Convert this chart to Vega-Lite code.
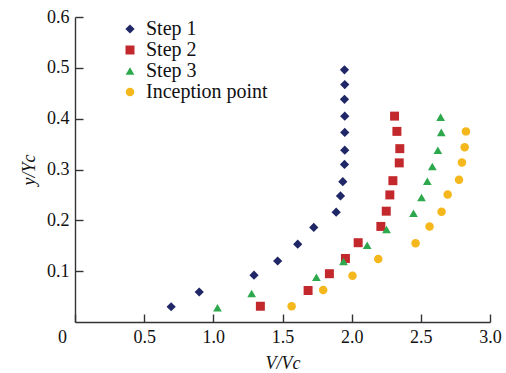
{
  "$schema": "https://vega.github.io/schema/vega-lite/v6.json",
  "width": 415,
  "height": 305,
  "autosize": "none",
  "padding": {"left": 75, "top": 17, "right": 16, "bottom": 51},
  "background": "white",
  "config": {
    "font": "Liberation Serif",
    "view": {"stroke": null},
    "legend": {"labelFont": "Liberation Serif", "titleFont": "Liberation Serif"},
    "axis": {
      "grid": false,
      "domainColor": "#333333",
      "domainWidth": 1.4,
      "tickColor": "#333333",
      "tickWidth": 1.4,
      "tickSize": -8,
      "labelFont": "Liberation Serif",
      "labelFontSize": 18,
      "labelColor": "#111111",
      "titleFont": "Liberation Serif",
      "titleFontSize": 18,
      "titleFontWeight": "normal",
      "titleFontStyle": "italic",
      "titleColor": "#111111"
    }
  },
  "data": {
    "values": [
      {"series": "Step 1", "v": 0.695, "y": 0.030},
      {"series": "Step 1", "v": 0.898, "y": 0.059},
      {"series": "Step 1", "v": 1.294, "y": 0.092},
      {"series": "Step 1", "v": 1.465, "y": 0.120},
      {"series": "Step 1", "v": 1.610, "y": 0.153},
      {"series": "Step 1", "v": 1.726, "y": 0.186},
      {"series": "Step 1", "v": 1.888, "y": 0.216},
      {"series": "Step 1", "v": 1.919, "y": 0.248},
      {"series": "Step 1", "v": 1.936, "y": 0.276},
      {"series": "Step 1", "v": 1.948, "y": 0.310},
      {"series": "Step 1", "v": 1.950, "y": 0.338},
      {"series": "Step 1", "v": 1.950, "y": 0.373},
      {"series": "Step 1", "v": 1.950, "y": 0.405},
      {"series": "Step 1", "v": 1.948, "y": 0.438},
      {"series": "Step 1", "v": 1.950, "y": 0.467},
      {"series": "Step 1", "v": 1.948, "y": 0.496},
      {"series": "Step 2", "v": 1.340, "y": 0.031},
      {"series": "Step 2", "v": 1.685, "y": 0.062},
      {"series": "Step 2", "v": 1.839, "y": 0.095},
      {"series": "Step 2", "v": 1.955, "y": 0.125},
      {"series": "Step 2", "v": 2.047, "y": 0.156},
      {"series": "Step 2", "v": 2.211, "y": 0.188},
      {"series": "Step 2", "v": 2.250, "y": 0.218},
      {"series": "Step 2", "v": 2.276, "y": 0.250},
      {"series": "Step 2", "v": 2.298, "y": 0.278},
      {"series": "Step 2", "v": 2.344, "y": 0.313},
      {"series": "Step 2", "v": 2.348, "y": 0.341},
      {"series": "Step 2", "v": 2.327, "y": 0.375},
      {"series": "Step 2", "v": 2.310, "y": 0.405},
      {"series": "Step 3", "v": 1.030, "y": 0.028},
      {"series": "Step 3", "v": 1.277, "y": 0.056},
      {"series": "Step 3", "v": 1.745, "y": 0.088},
      {"series": "Step 3", "v": 1.941, "y": 0.119},
      {"series": "Step 3", "v": 2.112, "y": 0.151},
      {"series": "Step 3", "v": 2.252, "y": 0.182},
      {"series": "Step 3", "v": 2.447, "y": 0.214},
      {"series": "Step 3", "v": 2.505, "y": 0.245},
      {"series": "Step 3", "v": 2.547, "y": 0.277},
      {"series": "Step 3", "v": 2.583, "y": 0.306},
      {"series": "Step 3", "v": 2.623, "y": 0.338},
      {"series": "Step 3", "v": 2.648, "y": 0.373},
      {"series": "Step 3", "v": 2.643, "y": 0.403},
      {"series": "Inception point", "v": 1.566, "y": 0.031},
      {"series": "Inception point", "v": 1.794, "y": 0.063},
      {"series": "Inception point", "v": 2.006, "y": 0.091},
      {"series": "Inception point", "v": 2.192, "y": 0.124},
      {"series": "Inception point", "v": 2.462, "y": 0.155},
      {"series": "Inception point", "v": 2.563, "y": 0.188},
      {"series": "Inception point", "v": 2.650, "y": 0.217},
      {"series": "Inception point", "v": 2.694, "y": 0.251},
      {"series": "Inception point", "v": 2.776, "y": 0.280},
      {"series": "Inception point", "v": 2.797, "y": 0.314},
      {"series": "Inception point", "v": 2.817, "y": 0.344},
      {"series": "Inception point", "v": 2.826, "y": 0.375}
    ]
  },
  "mark": {"type": "point", "filled": true, "opacity": 1, "strokeWidth": 0},
  "encoding": {
    "x": {
      "field": "v",
      "type": "quantitative",
      "scale": {"domain": [0, 3], "nice": false, "zero": false},
      "axis": {
        "title": "V/Vc",
        "values": [0, 0.5, 1, 1.5, 2, 2.5, 3],
        "labelExpr": "datum.value == 0 ? '0' : format(datum.value, '.1f')",
        "labelPadding": 14,
        "labelOffset": {"condition": {"test": "datum.value == 0", "value": -13}, "value": 0},
        "labelFlush": false,
        "titlePadding": 8
      }
    },
    "y": {
      "field": "y",
      "type": "quantitative",
      "scale": {"domain": [0, 0.6], "nice": false},
      "axis": {
        "title": "y/Yc",
        "values": [0.1, 0.2, 0.3, 0.4, 0.5, 0.6],
        "format": ".1f",
        "labelPadding": 14,
        "labelFlush": false,
        "titlePadding": 8
      }
    },
    "size": {
      "field": "series",
      "type": "nominal",
      "scale": {
        "domain": ["Step 1", "Step 2", "Step 3", "Inception point"],
        "range": [85, 72, 125, 80]
      },
      "legend": null
    },
    "color": {
      "field": "series",
      "type": "nominal",
      "scale": {
        "domain": ["Step 1", "Step 2", "Step 3", "Inception point"],
        "range": ["#1f2766", "#c3282c", "#2ea84c", "#f5b81c"]
      },
      "legend": {
        "title": null,
        "orient": "none",
        "legendX": 45,
        "legendY": 2,
        "labelFont": "Liberation Serif",
        "labelFontSize": 20,
        "labelColor": "#111111",
        "symbolSize": 50,
        "symbolStrokeWidth": 0,
        "labelOffset": 6,
        "rowPadding": 1
      }
    },
    "shape": {
      "field": "series",
      "type": "nominal",
      "scale": {
        "domain": ["Step 1", "Step 2", "Step 3", "Inception point"],
        "range": ["diamond", "square", "triangle-up", "circle"]
      },
      "legend": {
        "title": null,
        "orient": "none",
        "legendX": 45,
        "legendY": 2,
        "labelFont": "Liberation Serif",
        "labelFontSize": 20,
        "labelColor": "#111111",
        "symbolSize": 50,
        "symbolStrokeWidth": 0,
        "labelOffset": 6,
        "rowPadding": 1
      }
    }
  }
}
